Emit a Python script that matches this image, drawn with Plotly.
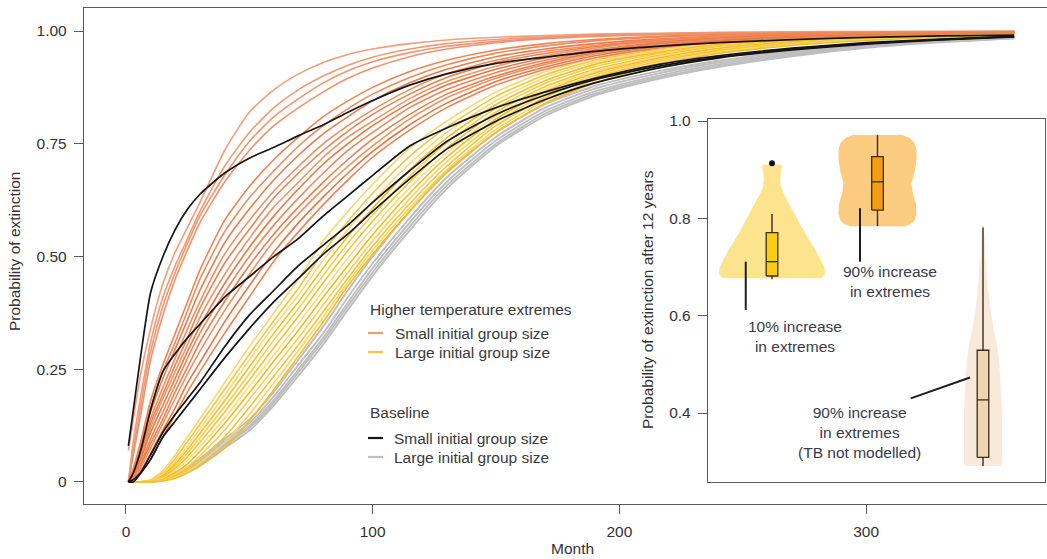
import plotly.graph_objects as go

# ---------------- main chart data ----------------
months = [1, 3, 6, 10, 15, 20, 25, 30, 40, 50, 60, 70, 80, 90, 100, 115, 130, 150, 170, 190, 215, 240, 270, 300, 330, 360]

# Higher temperature extremes, small initial group size
hot_small_01 = [0.07, 0.14, 0.24, 0.34, 0.44, 0.51, 0.565, 0.62, 0.735, 0.82, 0.87, 0.905, 0.93, 0.948, 0.96, 0.972, 0.98, 0.986, 0.99, 0.993, 0.995, 0.997, 0.998, 0.999, 0.999, 0.9995]
hot_small_02 = [0, 0.09, 0.19, 0.31, 0.41, 0.48, 0.54, 0.60, 0.70, 0.775, 0.83, 0.87, 0.90, 0.924, 0.942, 0.96, 0.972, 0.981, 0.987, 0.991, 0.994, 0.996, 0.997, 0.998, 0.999, 0.999]
hot_small_03 = [0, 0.07, 0.17, 0.29, 0.39, 0.465, 0.53, 0.59, 0.68, 0.755, 0.81, 0.85, 0.885, 0.912, 0.932, 0.952, 0.966, 0.977, 0.985, 0.99, 0.993, 0.995, 0.997, 0.998, 0.998, 0.999]
hot_small_04 = [0, 0.06, 0.15, 0.27, 0.37, 0.45, 0.515, 0.575, 0.665, 0.735, 0.79, 0.83, 0.865, 0.895, 0.918, 0.943, 0.96, 0.974, 0.983, 0.988, 0.992, 0.995, 0.996, 0.997, 0.998, 0.999]
hot_small_05 = [0, 0.03, 0.09, 0.18, 0.26, 0.33, 0.40, 0.47, 0.58, 0.655, 0.715, 0.765, 0.81, 0.845, 0.875, 0.91, 0.935, 0.958, 0.972, 0.981, 0.988, 0.992, 0.995, 0.996, 0.997, 0.998]
hot_small_06 = [0, 0.027, 0.083, 0.165, 0.245, 0.31, 0.38, 0.45, 0.555, 0.63, 0.69, 0.745, 0.79, 0.828, 0.86, 0.897, 0.925, 0.951, 0.967, 0.978, 0.986, 0.991, 0.994, 0.996, 0.997, 0.998]
hot_small_07 = [0, 0.025, 0.075, 0.155, 0.23, 0.295, 0.36, 0.425, 0.53, 0.605, 0.67, 0.725, 0.772, 0.81, 0.845, 0.885, 0.915, 0.943, 0.96, 0.972, 0.982, 0.988, 0.992, 0.995, 0.996, 0.998]
hot_small_08 = [0, 0.02, 0.065, 0.14, 0.21, 0.275, 0.34, 0.40, 0.505, 0.58, 0.645, 0.70, 0.75, 0.79, 0.825, 0.87, 0.905, 0.935, 0.955, 0.968, 0.98, 0.987, 0.992, 0.995, 0.996, 0.998]
hot_small_09 = [0, 0.018, 0.06, 0.13, 0.195, 0.26, 0.32, 0.385, 0.485, 0.56, 0.63, 0.685, 0.735, 0.778, 0.815, 0.86, 0.897, 0.93, 0.95, 0.965, 0.978, 0.986, 0.991, 0.994, 0.996, 0.998]
hot_small_10 = [0, 0.015, 0.055, 0.12, 0.185, 0.245, 0.305, 0.365, 0.46, 0.54, 0.61, 0.665, 0.72, 0.765, 0.80, 0.85, 0.888, 0.922, 0.945, 0.962, 0.976, 0.985, 0.99, 0.994, 0.996, 0.998]
hot_small_11 = [0, 0.013, 0.05, 0.11, 0.17, 0.23, 0.29, 0.345, 0.44, 0.52, 0.59, 0.65, 0.705, 0.75, 0.79, 0.84, 0.88, 0.915, 0.94, 0.958, 0.974, 0.984, 0.99, 0.993, 0.995, 0.997]
hot_small_12 = [0, 0.012, 0.042, 0.095, 0.155, 0.215, 0.275, 0.33, 0.42, 0.50, 0.57, 0.63, 0.685, 0.735, 0.775, 0.83, 0.87, 0.908, 0.935, 0.955, 0.972, 0.982, 0.989, 0.993, 0.995, 0.997]
hot_small_13 = [0, 0.01, 0.038, 0.085, 0.14, 0.20, 0.255, 0.31, 0.40, 0.48, 0.55, 0.61, 0.665, 0.715, 0.76, 0.815, 0.86, 0.90, 0.93, 0.952, 0.97, 0.981, 0.988, 0.992, 0.995, 0.997]
hot_small_14 = [0, 0.008, 0.032, 0.075, 0.13, 0.185, 0.24, 0.29, 0.38, 0.46, 0.535, 0.595, 0.65, 0.70, 0.745, 0.805, 0.852, 0.895, 0.926, 0.949, 0.968, 0.98, 0.988, 0.992, 0.995, 0.997]
hot_small_15 = [0, 0.006, 0.025, 0.062, 0.115, 0.165, 0.22, 0.265, 0.355, 0.435, 0.51, 0.575, 0.632, 0.685, 0.733, 0.792, 0.84, 0.888, 0.92, 0.945, 0.965, 0.978, 0.987, 0.991, 0.994, 0.997]
hot_small_16 = [0, 0.005, 0.02, 0.05, 0.10, 0.15, 0.20, 0.245, 0.33, 0.41, 0.49, 0.555, 0.615, 0.67, 0.72, 0.78, 0.83, 0.88, 0.915, 0.94, 0.962, 0.975, 0.985, 0.99, 0.994, 0.997]

# Higher temperature extremes, large initial group size
hot_large_01 = [0, 0, 0, 0.005, 0.025, 0.06, 0.10, 0.14, 0.22, 0.30, 0.375, 0.45, 0.535, 0.60, 0.66, 0.74, 0.80, 0.865, 0.91, 0.94, 0.962, 0.976, 0.986, 0.991, 0.994, 0.996]
hot_large_02 = [0, 0, 0, 0.004, 0.02, 0.052, 0.09, 0.128, 0.205, 0.283, 0.358, 0.43, 0.51, 0.578, 0.64, 0.722, 0.787, 0.855, 0.903, 0.935, 0.959, 0.974, 0.985, 0.99, 0.994, 0.996]
hot_large_03 = [0, 0, 0, 0.003, 0.017, 0.045, 0.08, 0.118, 0.192, 0.27, 0.345, 0.415, 0.492, 0.56, 0.622, 0.706, 0.775, 0.846, 0.897, 0.931, 0.956, 0.972, 0.984, 0.99, 0.993, 0.996]
hot_large_04 = [0, 0, 0, 0.002, 0.014, 0.04, 0.072, 0.108, 0.18, 0.255, 0.33, 0.40, 0.475, 0.545, 0.607, 0.692, 0.763, 0.837, 0.89, 0.926, 0.952, 0.97, 0.982, 0.989, 0.993, 0.995]
hot_large_05 = [0, 0, 0, 0.002, 0.012, 0.035, 0.064, 0.098, 0.167, 0.24, 0.315, 0.385, 0.458, 0.53, 0.592, 0.678, 0.752, 0.829, 0.884, 0.921, 0.949, 0.968, 0.981, 0.988, 0.992, 0.995]
hot_large_06 = [0, 0, 0, 0.001, 0.01, 0.03, 0.056, 0.088, 0.155, 0.226, 0.298, 0.368, 0.442, 0.513, 0.578, 0.665, 0.74, 0.82, 0.877, 0.915, 0.945, 0.965, 0.979, 0.987, 0.991, 0.995]
hot_large_07 = [0, 0, 0, 0.001, 0.008, 0.025, 0.048, 0.078, 0.142, 0.212, 0.282, 0.352, 0.425, 0.497, 0.563, 0.652, 0.73, 0.812, 0.871, 0.911, 0.942, 0.963, 0.977, 0.986, 0.99, 0.994]
hot_large_08 = [0, 0, 0, 0, 0.006, 0.021, 0.04, 0.068, 0.13, 0.198, 0.268, 0.337, 0.41, 0.48, 0.548, 0.64, 0.72, 0.805, 0.866, 0.907, 0.939, 0.961, 0.976, 0.985, 0.99, 0.994]
hot_large_09 = [0, 0, 0, 0, 0.005, 0.017, 0.034, 0.058, 0.115, 0.183, 0.252, 0.32, 0.393, 0.465, 0.535, 0.628, 0.71, 0.797, 0.86, 0.902, 0.936, 0.958, 0.974, 0.984, 0.989, 0.994]
hot_large_10 = [0, 0, 0, 0, 0.004, 0.013, 0.028, 0.05, 0.10, 0.165, 0.235, 0.305, 0.378, 0.452, 0.523, 0.617, 0.70, 0.79, 0.853, 0.897, 0.932, 0.956, 0.972, 0.982, 0.988, 0.993]
hot_large_11 = [0, 0, 0, 0, 0.003, 0.01, 0.023, 0.042, 0.088, 0.15, 0.22, 0.292, 0.366, 0.443, 0.514, 0.608, 0.692, 0.782, 0.846, 0.891, 0.928, 0.953, 0.97, 0.981, 0.987, 0.993]
hot_large_12 = [0, 0, 0, 0, 0.002, 0.008, 0.02, 0.035, 0.075, 0.135, 0.205, 0.28, 0.355, 0.435, 0.505, 0.60, 0.685, 0.775, 0.84, 0.885, 0.925, 0.95, 0.968, 0.979, 0.986, 0.992]

# Baseline, small initial group size
base_small_1 = [0.08, 0.16, 0.28, 0.42, 0.50, 0.56, 0.605, 0.638, 0.685, 0.718, 0.742, 0.768, 0.792, 0.82, 0.846, 0.88, 0.905, 0.928, 0.942, 0.955, 0.966, 0.974, 0.981, 0.986, 0.989, 0.991]
base_small_2 = [0, 0.02, 0.07, 0.16, 0.245, 0.285, 0.32, 0.35, 0.41, 0.455, 0.50, 0.54, 0.59, 0.635, 0.68, 0.745, 0.785, 0.83, 0.865, 0.895, 0.925, 0.945, 0.962, 0.974, 0.982, 0.988]
base_small_3 = [0, 0, 0.02, 0.06, 0.11, 0.15, 0.185, 0.22, 0.30, 0.37, 0.425, 0.48, 0.525, 0.57, 0.62, 0.69, 0.755, 0.815, 0.858, 0.892, 0.921, 0.942, 0.96, 0.972, 0.981, 0.988]
base_small_4 = [0, 0.005, 0.02, 0.05, 0.10, 0.135, 0.17, 0.205, 0.275, 0.34, 0.40, 0.452, 0.505, 0.55, 0.60, 0.672, 0.738, 0.80, 0.848, 0.885, 0.917, 0.94, 0.958, 0.971, 0.98, 0.987]

# Baseline, large initial group size
base_large_1 = [0, 0, 0, 0.002, 0.007, 0.017, 0.033, 0.052, 0.095, 0.138, 0.20, 0.272, 0.345, 0.425, 0.50, 0.60, 0.688, 0.775, 0.838, 0.878, 0.91, 0.934, 0.955, 0.971, 0.98, 0.987]
base_large_2 = [0, 0, 0, 0.002, 0.006, 0.015, 0.03, 0.048, 0.09, 0.13, 0.19, 0.26, 0.33, 0.41, 0.485, 0.585, 0.675, 0.765, 0.83, 0.872, 0.905, 0.93, 0.952, 0.969, 0.979, 0.986]
base_large_3 = [0, 0, 0, 0.001, 0.005, 0.013, 0.027, 0.044, 0.084, 0.124, 0.182, 0.25, 0.32, 0.398, 0.474, 0.575, 0.665, 0.757, 0.823, 0.866, 0.90, 0.926, 0.949, 0.967, 0.977, 0.985]
base_large_4 = [0, 0, 0, 0.001, 0.004, 0.012, 0.025, 0.041, 0.08, 0.12, 0.176, 0.244, 0.313, 0.39, 0.465, 0.566, 0.657, 0.75, 0.817, 0.861, 0.896, 0.922, 0.946, 0.965, 0.976, 0.984]
base_large_5 = [0, 0, 0, 0.001, 0.004, 0.011, 0.022, 0.038, 0.075, 0.114, 0.17, 0.236, 0.305, 0.382, 0.457, 0.558, 0.65, 0.745, 0.812, 0.857, 0.893, 0.92, 0.944, 0.963, 0.975, 0.984]

hot_small = [hot_small_01, hot_small_02, hot_small_03, hot_small_04, hot_small_05, hot_small_06,
             hot_small_07, hot_small_08, hot_small_09, hot_small_10, hot_small_11, hot_small_12,
             hot_small_13, hot_small_14, hot_small_15, hot_small_16]
hot_large = [hot_large_01, hot_large_02, hot_large_03, hot_large_04, hot_large_05, hot_large_06,
             hot_large_07, hot_large_08, hot_large_09, hot_large_10, hot_large_11, hot_large_12]
base_small = [base_small_1, base_small_2, base_small_3, base_small_4]
base_large = [base_large_1, base_large_2, base_large_3, base_large_4, base_large_5]

x_ticks = [0, 100, 200, 300]
y_ticks = [0, 0.25, 0.5, 0.75, 1.0]
y_tick_text = ["0", "0.25", "0.50", "0.75", "1.00"]

# ---------------- inset data ----------------
inset_positions = [1, 2, 3]
v1_level = [0.910, 0.900, 0.890, 0.880, 0.865, 0.850, 0.830, 0.800, 0.770, 0.740, 0.710, 0.695, 0.685, 0.680, 0.677]
v1_half = [0.095, 0.090, 0.081, 0.076, 0.085, 0.114, 0.161, 0.237, 0.313, 0.398, 0.474, 0.502, 0.502, 0.483, 0.455]
v2_level = [0.971, 0.965, 0.955, 0.940, 0.920, 0.895, 0.872, 0.850, 0.830, 0.810, 0.795, 0.788, 0.784]
v2_half = [0.237, 0.303, 0.351, 0.370, 0.370, 0.351, 0.322, 0.336, 0.365, 0.370, 0.351, 0.313, 0.256]
v3_level = [0.785, 0.720, 0.660, 0.620, 0.580, 0.540, 0.500, 0.450, 0.400, 0.350, 0.300, 0.291]
v3_half = [0.009, 0.024, 0.047, 0.066, 0.095, 0.133, 0.156, 0.171, 0.180, 0.180, 0.180, 0.171]

box_q1 = [0.6815, 0.817, 0.309]
box_median = [0.711, 0.875, 0.427]
box_q3 = [0.7705, 0.927, 0.529]
box_low = [0.675, 0.784, 0.291]
box_high = [0.809, 0.971, 0.781]
outlier_x = [1]
outlier_y = [0.913]

inset_y_ticks = [0.4, 0.6, 0.8, 1.0]
inset_y_text = ["0.4", "0.6", "0.8", "1.0"]

label_texts = ["10% increase<br>in extremes", "90% increase<br>in extremes",
               "90% increase<br>in extremes<br>(TB not modelled)"]
label_x = [1.218, 2.118, 1.834]
label_y = [0.558, 0.670, 0.361]
pointer_x = [[0.751, 0.751], [1.834, 1.834], [2.315, 2.877]]
pointer_y = [[0.711, 0.612], [0.821, 0.711], [0.430, 0.473]]

# ---------------- styling ----------------
FONT = "Liberation Sans, Arial, sans-serif"
TXT = "#333333"
AX = "#5a5a5a"
orange_cols = ["#F29E7C", "#F29A76", "#F19672", "#F0926C",
               "#EE8454", "#EF8A5C", "#EC7A48", "#EF8D60", "#ED8150", "#F09468",
               "#EB7744", "#EE8858", "#EC7E4C", "#F0905F", "#EA7442", "#ED8352"]
yellow_cols = ["#F9D66A", "#F7C63A", "#FAD978", "#F5BE22", "#F8CC4C", "#F6C22E",
               "#FADB80", "#F5BA1A", "#F8CF58", "#F6C434", "#F9D466", "#F5BD24"]
violin_fill = ["#FCE38E", "#FBCB80", "#F7EADB"]
box_fill = ["#F8CD12", "#F59D10", "#EFD5B2"]
BOX_LINE = "#3b2c18"
BOX_HALF = 0.055

fig = go.Figure()

def add_curve(vals, color, width=1.6):
    fig.add_trace(go.Scatter(x=months, y=vals, mode="lines",
                             line=dict(color=color, width=width, shape="spline", smoothing=0.6),
                             hoverinfo="skip", showlegend=False))

for vals in base_large:
    add_curve(vals, "#BEBEBE", 1.9)
for vals, col in zip(hot_large, yellow_cols):
    add_curve(vals, col)
for vals, col in zip(hot_small, orange_cols):
    add_curve(vals, col)
for vals in base_small:
    add_curve(vals, "#151515", 1.7)

def inset_line(xs, ys, color, width):
    fig.add_trace(go.Scatter(x=xs, y=ys, mode="lines", line=dict(color=color, width=width),
                             xaxis="x2", yaxis="y2", hoverinfo="skip", showlegend=False))

# violins (density outlines) in inset
def add_violin(pos, levels, half, color):
    xs = [pos + w for w in half] + [pos - w for w in reversed(half)]
    ys = list(levels) + list(reversed(levels))
    fig.add_trace(go.Scatter(x=xs, y=ys, mode="lines", fill="toself", fillcolor=color,
                             line=dict(width=0, color=color), xaxis="x2", yaxis="y2",
                             hoverinfo="skip", showlegend=False))

add_violin(inset_positions[0], v1_level, v1_half, violin_fill[0])
add_violin(inset_positions[1], v2_level, v2_half, violin_fill[1])
add_violin(inset_positions[2], v3_level, v3_half, violin_fill[2])

# box plots from their summary statistics
for i, c in enumerate(inset_positions):
    inset_line([c, c], [box_q3[i], box_high[i]], BOX_LINE, 1.4)
    inset_line([c, c], [box_q1[i], box_low[i]], BOX_LINE, 1.4)
    fig.add_trace(go.Scatter(x=[c - BOX_HALF, c + BOX_HALF, c + BOX_HALF, c - BOX_HALF, c - BOX_HALF],
                             y=[box_q1[i], box_q1[i], box_q3[i], box_q3[i], box_q1[i]],
                             mode="lines", fill="toself", fillcolor=box_fill[i],
                             line=dict(color=BOX_LINE, width=1.3), xaxis="x2", yaxis="y2",
                             hoverinfo="skip", showlegend=False))
    inset_line([c - BOX_HALF, c + BOX_HALF], [box_median[i], box_median[i]], BOX_LINE, 1.3)

fig.add_trace(go.Scatter(x=outlier_x, y=outlier_y, mode="markers",
                         marker=dict(color="#111111", size=6), xaxis="x2", yaxis="y2",
                         hoverinfo="skip", showlegend=False))

for px_, py_ in zip(pointer_x, pointer_y):
    inset_line(px_, py_, "#1e1e1e", 2)

annotations = []
for t, x, y in zip(label_texts, label_x, label_y):
    annotations.append(dict(text=t, x=x, y=y, xref="x2", yref="y2", showarrow=False,
                            font=dict(family=FONT, size=15.5, color="#3a3a48"),
                            xanchor="center", yanchor="middle", align="center"))

# pixel -> paper helpers for legend and titles
L, R, T, B = 84, 1047, 8, 504
def xp(px):
    return (px - L) / (R - L)
def yp(py):
    return (B - py) / (B - T)

legend_rows = [
    ("Higher temperature extremes", None, 368, 309),
    ("Small initial group size", "#F29A76", 393, 333),
    ("Large initial group size", "#F7C63A", 393, 352),
    ("Baseline", None, 368, 412),
    ("Small initial group size", "#151515", 392, 438),
    ("Large initial group size", "#BEBEBE", 392, 457),
]
shapes = []
for text, col, tx, ty in legend_rows:
    annotations.append(dict(text=text, x=xp(tx), y=yp(ty), xref="paper", yref="paper",
                            showarrow=False, xanchor="left", yanchor="middle",
                            font=dict(family=FONT, size=15.5, color="#3a3a3a")))
    if col:
        shapes.append(dict(type="line", xref="paper", yref="paper", x0=xp(368), x1=xp(383),
                           y0=yp(ty), y1=yp(ty), line=dict(color=col, width=2.2)))

annotations.append(dict(text="Month", x=xp(572), y=yp(548), xref="paper", yref="paper",
                        showarrow=False, xanchor="center", yanchor="middle",
                        font=dict(family=FONT, size=15.5, color=TXT)))
annotations.append(dict(text="Probability of extinction", x=xp(14), y=yp(252), xref="paper", yref="paper",
                        showarrow=False, xanchor="center", yanchor="middle", textangle=-90,
                        font=dict(family=FONT, size=15.5, color=TXT)))
annotations.append(dict(text="Probability of extinction after 12 years", x=xp(648), y=yp(300),
                        xref="paper", yref="paper", showarrow=False, xanchor="center",
                        yanchor="middle", textangle=-90,
                        font=dict(family=FONT, size=15.5, color=TXT)))

fig.update_layout(
    width=1047, height=559,
    margin=dict(l=L, r=1047 - R, t=T, b=559 - B),
    plot_bgcolor="white", paper_bgcolor="white",
    showlegend=False,
    font=dict(family=FONT, size=15.5, color=TXT),
    xaxis=dict(range=[-17.0, 373.3], tickvals=x_ticks, ticks="outside", ticklen=9,
               tickwidth=1.3, tickcolor=AX, showline=True, linecolor=AX, linewidth=1.4,
               mirror=True, showgrid=False, zeroline=False, ticklabelstandoff=4,
               tickfont=dict(family=FONT, size=15.5, color=TXT)),
    yaxis=dict(range=[-0.049, 1.051], tickvals=y_ticks, ticktext=y_tick_text, ticks="outside",
               ticklen=9, tickwidth=1.3, tickcolor=AX, showline=True, linecolor=AX,
               linewidth=1.4, mirror=True, showgrid=False, zeroline=False, ticklabelstandoff=4,
               tickfont=dict(family=FONT, size=15.5, color=TXT)),
    xaxis2=dict(domain=[xp(708), xp(1045)], anchor="y2", range=[0.3934, 3.5877],
                showline=True, linecolor=AX, linewidth=1.4, mirror=True, showticklabels=False,
                ticks="", showgrid=False, zeroline=False),
    yaxis2=dict(domain=[yp(482), yp(119)], anchor="x2", range=[0.2583, 1.0041],
                tickvals=inset_y_ticks, ticktext=inset_y_text, ticks="outside", ticklen=9,
                tickwidth=1.3, tickcolor=AX, showline=True, linecolor=AX, linewidth=1.4,
                mirror=True, showgrid=False, zeroline=False, ticklabelstandoff=4,
                tickfont=dict(family=FONT, size=15.5, color=TXT)),
    annotations=annotations,
    shapes=shapes,
)

fig.write_html("out.html")
